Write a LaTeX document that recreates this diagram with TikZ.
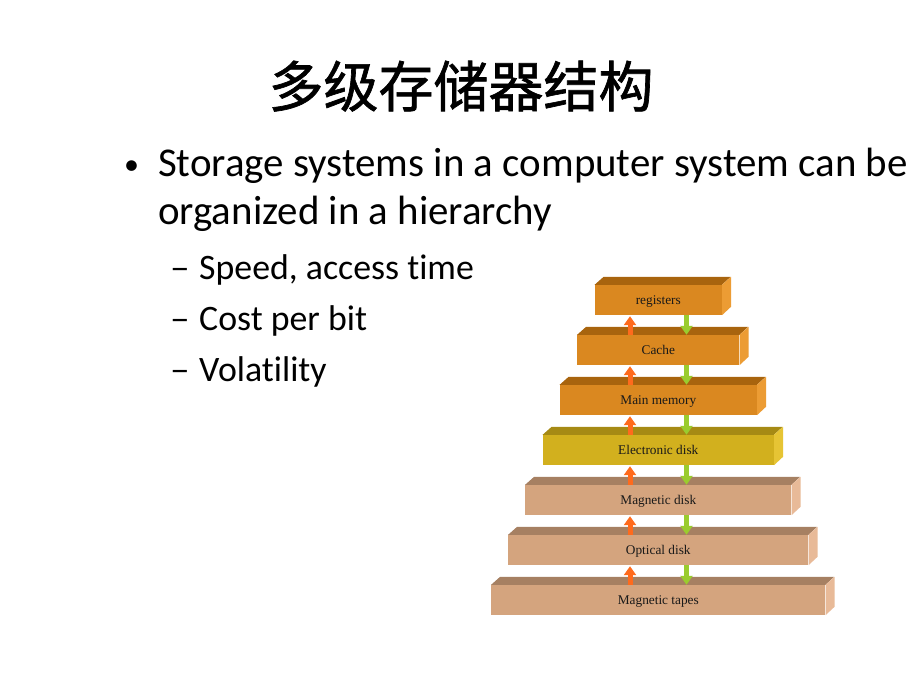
\documentclass[tikz,border=0pt]{standalone}
\usepackage{fontspec}
\setmainfont{Carlito}[Ligatures=NoCommon]
\newfontfamily\cjk[FakeBold=1.2]{Noto Sans CJK SC}
\newfontfamily\tms{Liberation Serif}
\usetikzlibrary{arrows.meta,calc}
\definecolor{orF}{HTML}{DA8820}
\definecolor{orT}{HTML}{A8640E}
\definecolor{orS}{HTML}{EC9C34}
\definecolor{yeF}{HTML}{D2B01E}
\definecolor{yeT}{HTML}{A68A14}
\definecolor{yeS}{HTML}{E6C434}
\definecolor{taF}{HTML}{D4A47E}
\definecolor{taT}{HTML}{A68062}
\definecolor{taS}{HTML}{E8BA98}
\definecolor{upC}{HTML}{FF6A1C}
\definecolor{dnC}{HTML}{9ACC2E}
\tikzset{
  boxfront/.style={inner sep=0pt, minimum height=30pt, font=\tms\fontsize{13.3}{15}\selectfont, text=black!90},
  uparr/.style={draw=upC, line width=5pt, -{Triangle[width=12pt,length=9pt,fill=upC]}},
  dnarr/.style={draw=dnC, line width=5pt, -{Triangle[width=12pt,length=9pt,fill=dnC]}},
  bul/.style={anchor=base west, inner sep=0pt, font=\fontsize{40.9}{49}\selectfont},
  subbul/.style={anchor=base west, inner sep=0pt, font=\fontsize{35.8}{43}\selectfont}
}
\newcommand{\layer}[5]{%
  \node[boxfront, fill=#5F, minimum width=#3pt] (#1) at (658.3,#2) {\raisebox{-4.5pt}[0pt][0pt]{#4}};
  \fill[#5T] (#1.north west) -- ++(9,-8) -- ++(#3,0) -- (#1.north east) -- cycle;
  \fill[#5S] (#1.north east) -- ++(9,-8) -- ++(0,30) -- (#1.south east) -- cycle;
}
\begin{document}
\begin{tikzpicture}[x=1pt,y=-1pt]
\useasboundingbox (0,0) rectangle (920,690);
\fill[white] (0,0) rectangle (920,690);
\node[anchor=base, inner sep=0pt, font=\cjk\fontsize{55}{60}\selectfont] (title) at (461,107) {多级存储器结构};
\node[anchor=base west, inner sep=0pt, font=\fontsize{30}{36}\selectfont] (dot) at (124,174) {•};
\node[bul] (l1) at (158,176) {Storage systems in a computer system can be};
\node[bul] (l2) at (158,224) {organized in a hierarchy};
\node[subbul] (d1) at (170,279) {\scalebox{1.1}[1]{–}};
\node[subbul] (s1) at (199,279) {Speed, access time};
\node[subbul] (d2) at (170,330) {\scalebox{1.1}[1]{–}};
\node[subbul] (s2) at (199,330) {Cost per bit};
\node[subbul] (d3) at (170,381) {\scalebox{1.1}[1]{–}};
\node[subbul] (s3) at (199,381) {Volatility};
\layer{b1}{300}{127}{registers}{or}
\layer{b2}{350}{162}{Cache}{or}
\layer{b3}{400}{197}{Main memory}{or}
\layer{b4}{450}{231}{Electronic disk}{ye}
\layer{b5}{500}{266}{Magnetic disk}{ta}
\layer{b6}{550}{300}{Optical disk}{ta}
\layer{b7}{600}{334}{Magnetic tapes}{ta}
\coordinate (ux) at (630,0);
\coordinate (dx) at (686.5,0);
\foreach \u/\l in {b1/b2,b2/b3,b3/b4,b4/b5,b5/b6,b6/b7}{
  \draw[uparr] (\l.north -| ux) -- ($(\u.south -| ux)+(0,1)$);
  \draw[dnarr] (\u.south -| dx) -- (\l.north -| dx);
}
\end{tikzpicture}
\end{document}
